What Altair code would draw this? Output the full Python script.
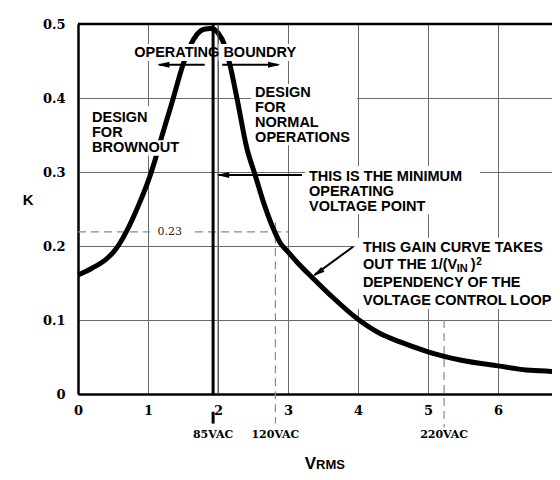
import altair as alt
import pandas as pd

# ---------------- data ----------------
vrms = [0.0, 0.2, 0.4, 0.5, 0.6, 0.7, 0.8, 0.9, 1.0, 1.1, 1.2, 1.34, 1.5,
        1.6, 1.7, 1.8, 1.9, 2.0, 2.1, 2.17, 2.27, 2.41, 2.53, 2.64, 2.77, 2.89,
        3.0, 3.13, 3.36, 3.6, 4.0, 4.31, 4.64, 5.0, 5.46, 6.0, 6.46, 7.0]
k_gain = [0.161, 0.170, 0.182, 0.191, 0.204, 0.221, 0.241, 0.263, 0.287, 0.316,
          0.349, 0.393, 0.445, 0.470, 0.486, 0.493, 0.494, 0.488, 0.470, 0.445,
          0.400, 0.333, 0.296, 0.262, 0.228, 0.204, 0.192, 0.178, 0.156, 0.134,
          0.101, 0.082, 0.069, 0.057, 0.046, 0.038, 0.032, 0.030]

x_ticks = [0, 1, 2, 3, 4, 5, 6]
y_ticks = [0, 0.1, 0.2, 0.3, 0.4, 0.5]
x_max = 6.7714
y_max = 0.5

min_op_vrms = 1.93           # 85VAC operating boundary
vac_names = ["85VAC", "120VAC", "220VAC"]
vac_vrms = [1.93, 2.82, 5.23]
k_mark = 0.219
k_mark_label = "0.23"

# dashed guide lines
dash_x = [0.0, 2.82, 5.23]
dash_x2 = [3.0, 2.82, 5.23]
dash_y = [k_mark, 0.232, 0.10]
dash_y2 = [k_mark, -0.04, -0.045]

# white knock-out boxes behind the annotation text
box_x = [0.686, 0.143, 0.143, 2.471, 3.243, 3.957, 1.03]
box_x2 = [3.243, 1.057, 1.60, 3.986, 5.743, 7.05, 1.60]
box_y = [0.450, 0.343, 0.322, 0.336, 0.243, 0.115, 0.209]
box_y2 = [0.473, 0.389, 0.343, 0.419, 0.308, 0.211, 0.227]

# arrows
arr_x = [1.81, 2.06, 3.20, 3.93]
arr_x2 = [1.16, 2.86, 2.01, 3.38]
arr_y = [0.445, 0.445, 0.296, 0.199]
arr_y2 = [0.445, 0.445, 0.296, 0.161]
head_x = [1.13, 2.89, 1.985, 3.355]
head_y = [0.445, 0.445, 0.296, 0.159]
head_angle = [0, 180, 0, 325]

# annotation text
note_text = ["DESIGN", "FOR", "BROWNOUT",
             "DESIGN", "FOR", "NORMAL", "OPERATIONS",
             "THIS IS THE MINIMUM", "OPERATING", "VOLTAGE POINT",
             "THIS GAIN CURVE TAKES", "OUT THE 1/(V", "DEPENDENCY OF THE",
             "VOLTAGE CONTROL LOOP"]
note_x = [0.2, 0.2, 0.2,
          2.53, 2.53, 2.53, 2.53,
          3.3, 3.3, 3.3,
          4.07, 4.07, 4.07, 4.07]
note_y = [0.368, 0.347, 0.327,
          0.401, 0.381, 0.361, 0.341,
          0.288, 0.268, 0.247,
          0.192, 0.169, 0.145, 0.120]

# ---------------- chart ----------------
XS = alt.Scale(domain=[0, x_max], nice=False, zero=False)
YS = alt.Scale(domain=[0, y_max], nice=False, zero=False)
SANS = "Liberation Sans"
SERIF = "DejaVu Serif"

x_axis = alt.Axis(values=x_ticks, title=None, grid=True, gridColor="#6a6a6a",
                  gridWidth=1, domain=True, domainColor="black", domainWidth=2.5,
                  ticks=False, tickSize=0, labelFlush=False,
                  labelPadding=10, labelFont=SERIF, labelFontWeight="bold",
                  labelFontSize=13, labelColor="black", labelBaseline="top")
y_axis = alt.Axis(values=y_ticks, title=None, grid=True, gridColor="#6a6a6a",
                  gridWidth=1, domain=True, domainColor="black", domainWidth=2.5,
                  ticks=False, tickSize=0, labelFlush=False,
                  labelPadding=13, labelFont=SERIF, labelFontWeight="bold",
                  labelFontSize=13, labelColor="black", format=".1~f")


def X(f):
    return alt.X(f, type="quantitative", scale=XS, axis=x_axis)


def Y(f):
    return alt.Y(f, type="quantitative", scale=YS, axis=y_axis)


curve_df = pd.DataFrame({"vrms": vrms, "k": k_gain})
dash_df = pd.DataFrame({"x": dash_x, "x2": dash_x2, "y": dash_y, "y2": dash_y2})
box_df = pd.DataFrame({"x": box_x, "x2": box_x2, "y": box_y, "y2": box_y2})
arr_df = pd.DataFrame({"x": arr_x, "x2": arr_x2, "y": arr_y, "y2": arr_y2})
head_df = pd.DataFrame({"x": head_x, "y": head_y, "a": head_angle})
note_df = pd.DataFrame({"t": note_text, "x": note_x, "y": note_y})
vac_df = pd.DataFrame({"t": vac_names, "x": vac_vrms, "y": [-0.059] * 3})

dashes = alt.Chart(dash_df).mark_rule(color="#8a8a8a", strokeWidth=1.2,
                                      strokeDash=[8, 5]).encode(
    x=X("x"), x2="x2", y=Y("y"), y2="y2")

curve = alt.Chart(curve_df).mark_line(color="black", strokeWidth=5,
                                      interpolate="monotone").encode(
    x=X("vrms"), y=Y("k"))

boxes = alt.Chart(box_df).mark_rect(color="white").encode(
    x=X("x"), x2="x2", y=Y("y"), y2="y2")

top_border = alt.Chart(pd.DataFrame({"x": [0.0], "x2": [7.2], "y": [y_max]})).mark_rule(
    color="black", strokeWidth=2.5).encode(x=X("x"), x2="x2", y=Y("y"))

vline = alt.Chart(pd.DataFrame({"x": [min_op_vrms], "y": [0.5], "y2": [0.0]})).mark_rule(
    color="black", strokeWidth=3).encode(x=X("x"), y=Y("y"), y2="y2")
vline_tail = alt.Chart(pd.DataFrame({"x": [min_op_vrms], "y": [-0.024], "y2": [-0.040]})).mark_rule(
    color="black", strokeWidth=3).encode(x=X("x"), y=Y("y"), y2="y2")
thin2 = alt.Chart(pd.DataFrame({"x": [2.0], "y": [0.5], "y2": [0.0]})).mark_rule(
    color="#555555", strokeWidth=1).encode(x=X("x"), y=Y("y"), y2="y2")

arrows = alt.Chart(arr_df).mark_rule(color="black", strokeWidth=2).encode(
    x=X("x"), x2="x2", y=Y("y"), y2="y2")
heads = alt.Chart(head_df).mark_point(
    shape="M 0 0 L 2 -0.48 L 2 0.48 Z", filled=True, color="black",
    opacity=1, size=150, strokeWidth=0).encode(
    x=X("x"), y=Y("y"), angle=alt.Angle("a", type="quantitative", scale=None))

notes = alt.Chart(note_df).mark_text(align="left", baseline="alphabetic",
                                     font=SANS, fontWeight="bold", fontSize=14.5,
                                     color="black").encode(
    x=X("x"), y=Y("y"), text="t")


def single(text, x, y, size, align="left", baseline="alphabetic", font=SANS,
           weight="bold", color="black"):
    return alt.Chart(pd.DataFrame({"t": [text], "x": [x], "y": [y]})).mark_text(
        align=align, baseline=baseline, font=font, fontWeight=weight,
        fontSize=size, color=color).encode(x=X("x"), y=Y("y"), text="t")


opb = single("OPERATING BOUNDRY", 1.96, 0.455, 14.5, align="center")
sub_in = single("IN", 5.41, 0.165, 11)
paren = single(")", 5.61, 0.169, 14.5)
sup2 = single("2", 5.69, 0.175, 10)
k_lab = single(k_mark_label, 1.31, k_mark, 11, align="center", baseline="middle",
               font=SERIF, weight="normal", color="#222222")
k_title = single("K", -0.79, 0.262, 15, baseline="middle")
v_title = single("V", 3.24, -0.101, 17)
rms_title = single("RMS", 3.40, -0.101, 13)

vac = alt.Chart(vac_df).mark_text(align="center", baseline="alphabetic",
                                  font=SERIF, fontWeight="bold", fontSize=11,
                                  color="black").encode(
    x=X("x"), y=Y("y"), text="t")

chart = alt.layer(
    dashes, curve, boxes, top_border, thin2, vline, vline_tail, arrows, heads,
    notes, opb, sub_in, paren, sup2, k_lab, k_title, v_title, rms_title, vac,
).properties(
    width=474, height=370,
    padding={"left": 70, "top": 16, "right": 0, "bottom": 78},
    autosize=alt.AutoSizeParams(type="none"),
    background="white",
).configure_view(
    strokeWidth=0
)

chart.save("out.html", embed_options={"renderer": "svg", "actions": False})
